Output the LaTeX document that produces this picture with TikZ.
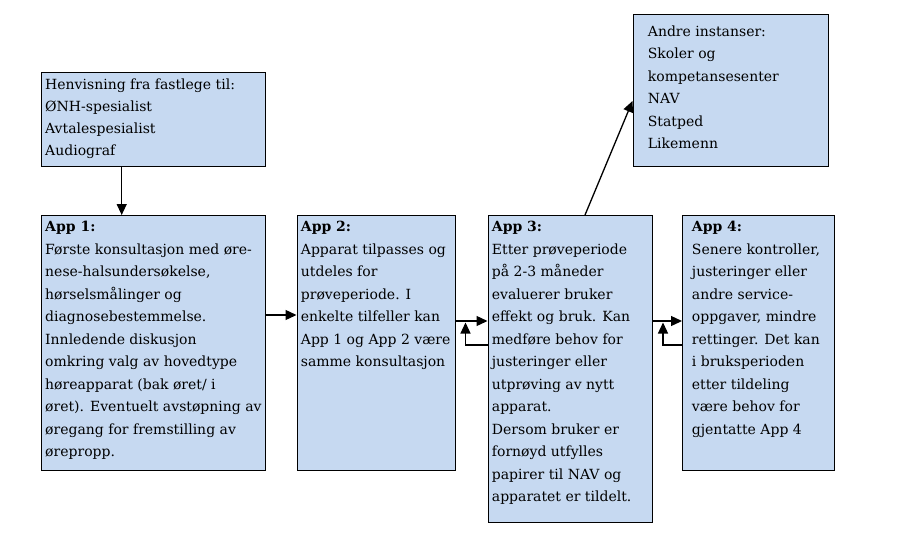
\documentclass[tikz,border=0pt]{standalone}
\usepackage{fontspec}
\setmainfont{DejaVu Serif}
\usetikzlibrary{arrows.meta}

\definecolor{boksblaa}{HTML}{C6D9F1}
\tikzset{
  boks/.style={draw, line width=1.3pt, fill=boksblaa, inner sep=0pt, anchor=north west},
  tekst/.style={anchor=north west, align=left, inner sep=0pt, font=\fontsize{14}{22.5}\selectfont},
  pil/.style={-{Triangle[length=11pt,width=10pt]}, line width=1.3pt},
}

\begin{document}
\begin{tikzpicture}[x=1pt,y=-1pt]
	\useasboundingbox (0,0) rectangle (907,542);

	% Bokser
	\node[boks, minimum width=224pt, minimum height=94.5pt] (henv) at (41,71.5) {};
	\node[boks, minimum width=224pt, minimum height=255pt] (app1) at (41,215) {};
	\node[boks, minimum width=158pt, minimum height=255pt] (app2) at (296.5,215) {};
	\node[boks, minimum width=164.5pt, minimum height=306.5pt] (app3) at (487.5,215) {};
	\node[boks, minimum width=195pt, minimum height=152pt] (andre) at (632.5,13.5) {};
	\node[boks, minimum width=151.5pt, minimum height=255pt] (app4) at (682,215) {};

	% Tekster
	\node[tekst, font=\fontsize{14}{22}\selectfont] (henvtxt) at (45,78.8)
	{Henvisning fra fastlege til:\\ØNH-spesialist\\Avtalespesialist\\Audiograf};
	\node[tekst] (app1txt) at (45,221.3)
	{\textbf{App 1:}\\Første konsultasjon med øre-\\nese-halsundersøkelse,\\hørselsmålinger og\\diagnosebestemmelse.\\Innledende diskusjon\\omkring valg av hovedtype\\høreapparat (bak øret/ i\\øret). Eventuelt avstøpning av\\øregang for fremstilling av\\ørepropp.};
	\node[tekst] (app2txt) at (300.7,221.3)
	{\textbf{App 2:}\\Apparat tilpasses og\\utdeles for\\prøveperiode. I\\enkelte tilfeller kan\\App 1 og App 2 være\\samme konsultasjon};
	\node[tekst] (app3txt) at (491.7,221.3)
	{\textbf{App 3:}\\Etter prøveperiode\\på 2-3 måneder\\evaluerer bruker\\effekt og bruk. Kan\\medføre behov for\\justeringer eller\\utprøving av nytt\\apparat.\\Dersom bruker er\\fornøyd utfylles\\papirer til NAV og\\apparatet er tildelt.};
	\node[tekst] (andretxt) at (647.7,25.4)
	{Andre instanser:\\Skoler og\\kompetansesenter\\NAV\\Statped\\Likemenn};
	\node[tekst] (app4txt) at (691.7,221.3)
	{\textbf{App 4:}\\Senere kontroller,\\justeringer eller\\andre service-\\oppgaver, mindre\\rettinger. Det kan\\i bruksperioden\\etter tildeling\\være behov for\\gjentatte App 4};

	% Piler
	\draw[pil] ([xshift=80.7pt]henv.south west) -- ([xshift=80.7pt]app1.north west);
	\draw[pil] ([yshift=-100pt]app1.north east) -- ([yshift=-100pt]app2.north west);
	\draw[pil] ([yshift=-106pt]app2.north east) -- ([yshift=-106pt]app3.north west);
	\draw[pil] ([yshift=-130pt]app3.north west) -- ++(-22pt,0pt) -- ++(0pt,22.5pt);
	\draw[pil] ([yshift=-106pt]app3.north east) -- ([yshift=-106pt]app4.north west);
	\draw[pil] ([yshift=-130pt]app4.north west) -- ++(-19pt,0pt) -- ++(0pt,22.5pt);
	\draw[pil] ([xshift=97.5pt]app3.north west) -- ([yshift=-87.5pt]andre.north west);

\end{tikzpicture}
\end{document}
